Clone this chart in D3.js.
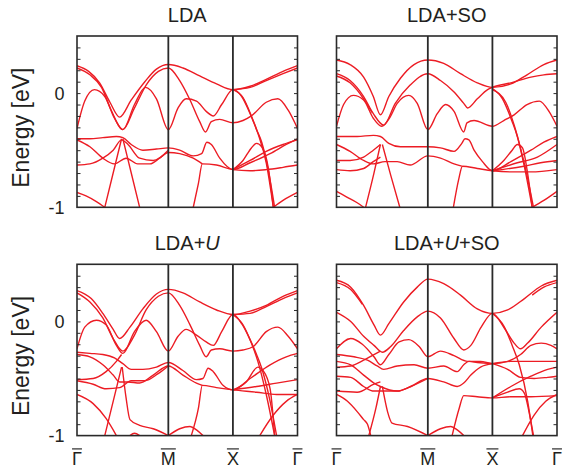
<!DOCTYPE html>
<html>
<head>
<meta charset="utf-8">
<script src="https://cdn.jsdelivr.net/npm/d3@7"></script>
<style>
  body { margin: 0; background: #fff; }
  text { font-family: "Liberation Sans", Arial, sans-serif; fill: #231f20; }
</style>
</head>
<body>
<div id="chart"></div>
<script>
// high-symmetry path: Gamma - M - X - Gamma (path length units)
var kTicks = [0, 1.414, 2.414, 3.414];
var kLabels = ['\u0393', 'M', 'X', '\u0393'];
var energyRange = [-1, 0.5];
var energyLabels = [0, -1];

// bands, [k, E(eV)]
var ldaBands = [
  [[0,0.24],[0.18,0.19],[0.35,0.09],[0.51,-0.08],[0.66,-0.21],[0.84,-0.06],[1.05,0.10],[1.23,0.21],[1.414,0.25],[1.64,0.22],[1.90,0.15],[2.16,0.08],[2.414,0.03],[2.68,0.06],[2.93,0.12],[3.19,0.19],[3.414,0.24]],
  [[0,0.22],[0.20,0.16],[0.38,0.05],[0.53,-0.15],[0.71,-0.32],[0.89,-0.13],[1.07,0.07],[1.26,0.19],[1.414,0.22],[1.59,0.11],[1.75,-0.06],[1.90,-0.25],[1.99,-0.34],[2.08,-0.25],[2.21,-0.23],[2.414,-0.26],[2.57,-0.24],[2.70,-0.20],[2.93,-0.08],[3.11,-0.05],[3.27,-0.15],[3.414,-0.31]],
  [[0,-0.31],[0.12,-0.07],[0.27,0.03],[0.43,-0.03],[0.58,-0.22],[0.71,-0.32],[0.89,-0.10],[1.06,0.05],[1.23,-0.05],[1.414,-0.32],[1.565,-0.13],[1.69,-0.05],[1.85,-0.07],[2.00,-0.16],[2.11,-0.20],[2.24,-0.10],[2.414,0.03],[2.55,-0.03],[2.68,-0.18],[2.78,-0.32],[2.86,-0.43],[2.96,-0.67],[3.06,-1.0]],
  [[2.414,0.03],[2.68,0.05],[2.93,0.11],[3.19,0.17],[3.414,0.22]],
  [[2.414,0.03],[2.57,-0.04],[2.70,-0.20],[2.80,-0.35],[2.93,-0.61],[3.04,-1.0]],
  [[0,-0.87],[0.14,-0.90],[0.30,-0.95],[0.43,-1.0]],
  [[3.04,-1.0],[3.19,-0.94],[3.414,-0.87]],
  [[0.43,-1.0],[0.56,-0.70],[0.69,-0.40]],
  [[0.71,-0.40],[0.84,-0.70],[0.97,-1.0]],
  [[1.80,-1.0],[1.88,-0.79],[1.94,-0.62],[2.16,-0.63],[2.414,-0.67],[2.68,-0.68],[2.93,-0.67],[3.19,-0.65],[3.414,-0.63]],
  [[0,-0.40],[0.20,-0.40],[0.40,-0.39],[0.61,-0.38],[0.71,-0.39],[0.84,-0.45],[1.02,-0.50],[1.23,-0.49],[1.414,-0.48],[1.59,-0.50],[1.80,-0.55],[1.93,-0.53],[2.01,-0.43],[2.08,-0.45],[2.21,-0.57],[2.414,-0.67],[2.68,-0.61],[2.99,-0.53],[3.24,-0.45],[3.414,-0.40]],
  [[0,-0.41],[0.20,-0.47],[0.40,-0.57],[0.58,-0.62],[0.76,-0.57],[0.94,-0.62],[1.13,-0.62],[1.28,-0.57],[1.414,-0.52],[1.59,-0.53],[1.80,-0.57],[1.94,-0.62]],
  [[0,-0.63],[0.20,-0.62],[0.40,-0.57],[0.56,-0.50],[0.69,-0.41],[0.79,-0.45],[0.97,-0.57],[1.18,-0.59],[1.414,-0.50]],
  [[2.414,-0.67],[2.68,-0.59],[2.93,-0.51],[3.19,-0.45],[3.414,-0.41]],
  [[2.414,-0.67],[2.57,-0.59],[2.70,-0.48],[2.78,-0.44],[2.86,-0.47],[2.96,-0.65],[3.04,-1.0]]
];

var ldaSoBands = [
  [[0,0.29],[0.21,0.25],[0.42,0.14],[0.57,-0.03],[0.68,-0.19],[0.81,-0.03],[0.99,0.13],[1.20,0.25],[1.414,0.29],[1.66,0.26],[1.92,0.17],[2.18,0.09],[2.414,0.05],[2.70,0.08],[2.95,0.16],[3.21,0.25],[3.414,0.29]],
  [[0,0.17],[0.21,0.11],[0.42,-0.03],[0.57,-0.18],[0.73,-0.28],[0.91,-0.09],[1.14,0.07],[1.414,0.17],[1.61,0.11],[1.82,0.01],[1.97,-0.09],[2.03,-0.13],[2.18,-0.05],[2.34,0.03],[2.414,0.05],[2.70,0.09],[3.01,0.14],[3.21,0.16],[3.414,0.17]],
  [[0,0.15],[0.21,0.09],[0.42,-0.05],[0.55,-0.17]],
  [[0,-0.29],[0.11,-0.10],[0.26,-0.02],[0.42,-0.06],[0.57,-0.22],[0.70,-0.29],[0.83,-0.21],[0.94,-0.09],[1.12,-0.02],[1.25,-0.09],[1.414,-0.32],[1.56,-0.18],[1.69,-0.10],[1.82,-0.16],[1.97,-0.34],[2.02,-0.26],[2.13,-0.24],[2.414,-0.29],[2.59,-0.24],[2.75,-0.19],[2.95,-0.10],[3.14,-0.07],[3.29,-0.16],[3.414,-0.29]],
  [[2.414,0.04],[2.57,-0.05],[2.72,-0.25],[2.80,-0.38],[2.90,-0.62],[3.03,-1.0]],
  [[2.414,0.03],[2.62,-0.08],[2.75,-0.28],[2.83,-0.44],[2.93,-0.67],[3.05,-1.0]],
  [[0,-0.86],[0.16,-0.91],[0.32,-0.96],[0.42,-1.0]],
  [[3.03,-1.0],[3.21,-0.94],[3.414,-0.86]],
  [[0.45,-1.0],[0.58,-0.70],[0.68,-0.45]],
  [[0.71,-0.45],[0.84,-0.72],[0.98,-1.0]],
  [[0,-0.38],[0.32,-0.38],[0.57,-0.37],[0.68,-0.38],[0.81,-0.44],[0.99,-0.47],[1.20,-0.47],[1.414,-0.47],[1.61,-0.48],[1.82,-0.51],[1.94,-0.44],[1.99,-0.40],[2.05,-0.41],[2.13,-0.50],[2.26,-0.60],[2.414,-0.68],[2.70,-0.60],[3.01,-0.50],[3.21,-0.43],[3.414,-0.38]],
  [[0,-0.45],[0.21,-0.51],[0.42,-0.59],[0.57,-0.62],[0.75,-0.60],[0.94,-0.60],[1.14,-0.63],[1.414,-0.55],[1.61,-0.57],[1.82,-0.62],[1.94,-0.64]],
  [[0,-0.59],[0.21,-0.59],[0.42,-0.56],[0.57,-0.50],[0.68,-0.45]],
  [[0,-0.67],[0.21,-0.68],[0.42,-0.66],[0.57,-0.60],[0.68,-0.56]],
  [[1.81,-1.0],[1.89,-0.76],[1.95,-0.64],[2.18,-0.66],[2.414,-0.68],[2.70,-0.69],[3.01,-0.69],[3.414,-0.67]],
  [[2.414,-0.68],[2.59,-0.59],[2.72,-0.50],[2.80,-0.45],[2.88,-0.48],[2.95,-0.67],[3.03,-1.0]],
  [[2.414,-0.68],[2.80,-0.61],[3.11,-0.56],[3.414,-0.45]],
  [[2.414,-0.68],[2.90,-0.64],[3.16,-0.61],[3.414,-0.59]]
];

var ldaUBands = [
  [[0,0.27],[0.22,0.20],[0.40,0.07],[0.56,-0.07],[0.66,-0.15],[0.82,-0.05],[1.02,0.11],[1.23,0.24],[1.414,0.28],[1.64,0.25],[1.90,0.17],[2.16,0.10],[2.414,0.06],[2.68,0.09],[2.93,0.14],[3.19,0.22],[3.414,0.27]],
  [[0,0.25],[0.20,0.17],[0.40,0.03],[0.56,-0.15],[0.71,-0.26],[0.89,-0.12],[1.07,0.10],[1.26,0.22],[1.414,0.25],[1.59,0.14],[1.75,-0.03],[1.90,-0.21],[2.00,-0.31],[2.08,-0.25],[2.21,-0.24],[2.414,-0.26],[2.57,-0.25],[2.73,-0.22],[2.93,-0.09],[3.11,-0.05],[3.27,-0.13],[3.414,-0.24]],
  [[0,-0.24],[0.12,-0.05],[0.30,0.01],[0.45,-0.03],[0.61,-0.21],[0.71,-0.28],[0.89,-0.09],[1.07,0.01],[1.23,-0.09],[1.414,-0.26],[1.565,-0.13],[1.69,-0.07],[1.85,-0.12],[2.00,-0.18],[2.11,-0.21],[2.24,-0.09],[2.414,0.06],[2.55,-0.02],[2.68,-0.16],[2.78,-0.29],[2.86,-0.41],[2.99,-0.70],[3.09,-1.0]],
  [[2.414,0.06],[2.68,0.07],[2.93,0.13],[3.19,0.20],[3.414,0.25]],
  [[2.414,0.06],[2.57,-0.03],[2.70,-0.19],[2.80,-0.35],[2.93,-0.64],[3.06,-1.0]],
  [[0.43,-1.0],[0.56,-0.70],[0.69,-0.40]],
  [[0.70,-0.40],[0.76,-0.67],[0.82,-0.86],[0.97,-0.91],[1.18,-0.94],[1.414,-1.0]],
  [[1.414,-1.0],[1.59,-0.94],[1.75,-0.92],[1.85,-0.95],[1.95,-1.0]],
  [[0.82,-1.0],[0.89,-0.98],[0.97,-1.0]],
  [[1.77,-1.0],[1.88,-0.76],[1.94,-0.56],[2.16,-0.58],[2.414,-0.60],[2.78,-0.62],[3.09,-0.64],[3.414,-0.64]],
  [[0,-0.27],[0.20,-0.28],[0.40,-0.29],[0.58,-0.32],[0.71,-0.37],[0.84,-0.42],[1.02,-0.42],[1.23,-0.40],[1.414,-0.36],[1.64,-0.43],[1.85,-0.51],[1.95,-0.50],[2.03,-0.41],[2.11,-0.44],[2.26,-0.56],[2.414,-0.60],[2.68,-0.50],[2.99,-0.38],[3.24,-0.31],[3.414,-0.28]],
  [[0,-0.29],[0.20,-0.31],[0.40,-0.38],[0.56,-0.47],[0.66,-0.53],[0.79,-0.53],[0.97,-0.54],[1.18,-0.47],[1.414,-0.39],[1.64,-0.47],[1.85,-0.54],[1.94,-0.56]],
  [[0,-0.51],[0.25,-0.50],[0.45,-0.44],[0.61,-0.35],[0.69,-0.29]],
  [[0,-0.52],[0.25,-0.55],[0.45,-0.59],[0.66,-0.58],[0.84,-0.52],[1.05,-0.52],[1.25,-0.46],[1.414,-0.39]],
  [[0,-0.64],[0.25,-0.72],[0.45,-0.85],[0.61,-1.0]],
  [[2.83,-1.0],[3.04,-0.82],[3.24,-0.70],[3.414,-0.64]],
  [[2.414,-0.60],[2.78,-0.57],[3.09,-0.54],[3.414,-0.51]],
  [[2.414,-0.60],[2.62,-0.53],[2.80,-0.40],[2.88,-0.43],[2.99,-0.59],[3.06,-1.0]]
];

var ldaUSoBands = [
  [[0,0.36],[0.22,0.30],[0.42,0.14],[0.58,-0.03],[0.68,-0.12],[0.81,-0.02],[1.04,0.17],[1.25,0.30],[1.414,0.37],[1.66,0.33],[1.92,0.23],[2.18,0.11],[2.414,0.07],[2.65,0.10],[2.91,0.20],[3.17,0.31],[3.414,0.36]],
  [[0,0.34],[0.22,0.28],[0.40,0.15]],
  [[3.03,0.23],[3.21,0.30],[3.414,0.34]],
  [[0,0.08],[0.22,0.00],[0.42,-0.13],[0.58,-0.21],[0.71,-0.27],[0.84,-0.22],[1.04,-0.08],[1.25,0.04],[1.414,0.09],[1.61,0.03],[1.82,-0.15],[1.97,-0.25],[2.08,-0.21],[2.24,-0.05],[2.414,0.07],[2.60,-0.06],[2.75,-0.19],[2.85,-0.24],[2.96,-0.19],[3.17,-0.05],[3.414,0.08]],
  [[0,-0.24],[0.22,-0.15],[0.40,-0.20],[0.58,-0.31],[0.68,-0.38],[0.81,-0.29],[0.97,-0.18],[1.12,-0.16],[1.28,-0.22],[1.414,-0.31],[1.61,-0.26],[1.82,-0.30],[2.03,-0.35],[2.23,-0.35],[2.414,-0.37],[2.65,-0.35],[2.85,-0.29],[3.01,-0.21],[3.17,-0.19],[3.32,-0.21],[3.414,-0.24]],
  [[0,-0.29],[0.27,-0.31],[0.48,-0.34],[0.63,-0.39],[0.73,-0.42],[0.94,-0.39],[1.20,-0.38],[1.414,-0.41],[1.66,-0.39],[1.87,-0.44],[1.97,-0.38],[2.05,-0.35],[2.18,-0.36],[2.414,-0.37]],
  [[0,-0.35],[0.22,-0.38],[0.42,-0.47],[0.58,-0.54],[0.68,-0.57],[0.94,-0.61],[1.15,-0.57],[1.414,-0.50],[1.66,-0.53],[1.87,-0.57],[1.97,-0.54],[2.08,-0.47],[2.23,-0.40],[2.414,-0.37]],
  [[0,-0.40],[0.22,-0.39],[0.42,-0.34],[0.58,-0.29],[0.68,-0.26]],
  [[0,-0.48],[0.22,-0.49],[0.42,-0.57],[0.58,-0.61],[0.75,-0.61],[0.94,-0.61],[1.15,-0.57],[1.414,-0.50]],
  [[0,-0.61],[0.32,-0.62],[0.58,-0.55],[0.68,-0.53]],
  [[0,-0.64],[0.17,-0.70],[0.32,-0.79],[0.42,-0.86],[0.48,-0.90],[0.53,-1.0]],
  [[0.50,-1.0],[0.61,-0.76],[0.68,-0.57]],
  [[0.71,-0.57],[0.79,-0.79],[0.86,-0.89],[1.10,-0.92],[1.414,-1.0]],
  [[1.414,-1.0],[1.61,-0.94],[1.77,-0.92],[1.87,-0.95],[1.97,-1.0]],
  [[1.79,-1.0],[1.90,-0.76],[1.97,-0.65],[2.18,-0.66],[2.414,-0.67],[2.70,-0.66],[3.01,-0.66],[3.414,-0.65]],
  [[2.414,-0.67],[2.65,-0.62],[2.83,-0.59],[2.91,-0.63],[2.98,-0.79],[3.05,-1.0]],
  [[2.414,-0.67],[2.70,-0.57],[3.01,-0.48],[3.27,-0.42],[3.414,-0.40]],
  [[2.414,-0.37],[2.65,-0.42],[2.85,-0.49],[3.06,-0.50],[3.27,-0.49],[3.414,-0.48]],
  [[2.414,-0.37],[2.70,-0.35],[2.96,-0.35],[3.22,-0.35],[3.414,-0.35]],
  [[2.414,0.07],[2.60,-0.05],[2.72,-0.21],[2.83,-0.38],[2.96,-0.70],[3.04,-1.0]],
  [[2.88,-1.0],[3.06,-0.82],[3.24,-0.70],[3.414,-0.64]]
];

var panelTitles = [
  [{t: 'LDA'}],
  [{t: 'LDA+SO'}],
  [{t: 'LDA+'}, {t: 'U', it: true}],
  [{t: 'LDA+'}, {t: 'U', it: true}, {t: '+SO'}]
];
var panelBands = [ldaBands, ldaSoBands, ldaUBands, ldaUSoBands];

var width = 566, height = 470;
var panelW = 220.5, panelH = 171.3;
var colX = [77, 336.5], rowY = [36, 264.3];
var ink = '#2a2a2a';

var svg = d3.select('#chart').append('svg')
  .attr('width', width)
  .attr('height', height);

var x = d3.scaleLinear().domain([0, 3.414]).range([0, panelW]);
var y = d3.scaleLinear().domain(energyRange).range([panelH, 0]);

var line = d3.line()
  .x(function(d) { return x(d[0]); })
  .y(function(d) { return y(d[1]); })
  .curve(d3.curveMonotoneX);

panelBands.forEach(function(bands, i) {
  var col = i % 2, row = Math.floor(i / 2);
  var g = svg.append('g')
    .attr('transform', 'translate(' + colX[col] + ',' + rowY[row] + ')');

  g.append('clipPath').attr('id', 'clip' + i)
    .append('rect').attr('width', panelW).attr('height', panelH);

  // bands
  g.append('g').attr('clip-path', 'url(#clip' + i + ')')
    .selectAll('path')
    .data(bands)
    .enter().append('path')
    .attr('d', line)
    .attr('fill', 'none')
    .attr('stroke', '#ec1c24')
    .attr('stroke-width', 1.4);

  // inward ticks on both sides
  var yTicks = d3.range(-0.9, 0.45, 0.1);
  var leftAxis = d3.axisRight(y).tickValues(yTicks).tickSize(3.5).tickFormat('');
  var rightAxis = d3.axisLeft(y).tickValues(yTicks).tickSize(3.5).tickFormat('');
  [leftAxis, rightAxis].forEach(function(ax, j) {
    var a = g.append('g')
      .attr('transform', 'translate(' + (j ? panelW : 0) + ',0)')
      .call(ax);
    a.select('.domain').remove();
    a.selectAll('line').attr('stroke', ink).attr('stroke-width', 1);
  });

  // symmetry point lines
  g.selectAll('.kline')
    .data(kTicks.slice(1, 3))
    .enter().append('line')
    .attr('x1', function(d) { return x(d); })
    .attr('x2', function(d) { return x(d); })
    .attr('y1', 0).attr('y2', panelH)
    .attr('stroke', ink)
    .attr('stroke-width', 1.8);

  g.append('rect')
    .attr('width', panelW).attr('height', panelH)
    .attr('fill', 'none')
    .attr('stroke', ink)
    .attr('stroke-width', 1.6);

  // title
  var title = g.append('text')
    .attr('x', panelW / 2).attr('y', -14.4)
    .attr('text-anchor', 'middle')
    .style('font-size', '20px');
  title.selectAll('tspan')
    .data(panelTitles[i])
    .enter().append('tspan')
    .style('font-style', function(d) { return d.it ? 'italic' : null; })
    .text(function(d) { return d.t; });

  if (col === 0) {
    g.selectAll('.elabel')
      .data(energyLabels)
      .enter().append('text')
      .attr('x', -12.5)
      .attr('y', function(d) { return y(d) + 6.5; })
      .attr('text-anchor', 'end')
      .style('font-size', '18px')
      .text(function(d) { return d === 0 ? '0' : '-1'; });

    g.append('text')
      .attr('transform', 'translate(-48.5,' + (panelH / 2 + 6) + ') rotate(-90)')
      .attr('text-anchor', 'middle')
      .style('font-size', '23px')
      .text('Energy [eV]');
  }

  if (row === 1) {
    var kl = g.selectAll('.klabel')
      .data(kTicks)
      .enter().append('g')
      .attr('transform', function(d) { return 'translate(' + x(d) + ',' + (panelH + 29.3) + ')'; });
    kl.append('text')
      .attr('text-anchor', 'middle')
      .style('font-size', '18px')
      .text(function(d, j) { return kLabels[j]; });
    // bar over the symmetry point letter
    kl.append('line')
      .attr('x1', function() { return -this.parentNode.querySelector('text').getComputedTextLength() / 2; })
      .attr('x2', function() { return this.parentNode.querySelector('text').getComputedTextLength() / 2; })
      .attr('y1', -16).attr('y2', -16)
      .attr('stroke', ink)
      .attr('stroke-width', 1.2);
  }
});
</script>
</body>
</html>
